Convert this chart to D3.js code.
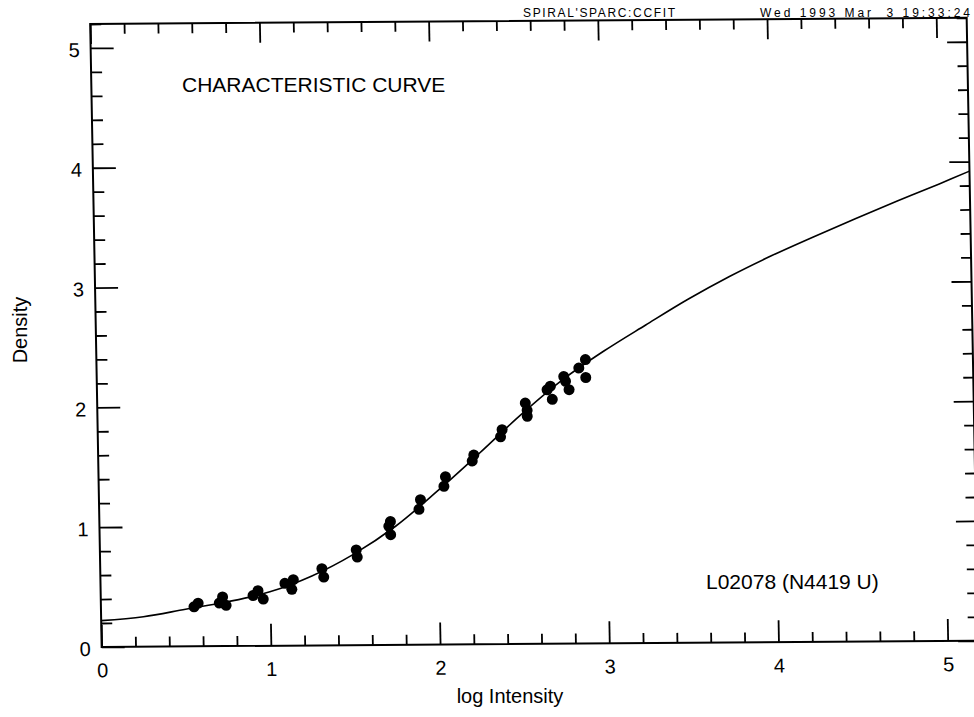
<!DOCTYPE html>
<html>
<head>
<meta charset="utf-8">
<script src="https://cdn.jsdelivr.net/npm/d3@7"></script>
<style>
  html, body { margin: 0; padding: 0; background: #fff; }
  svg { display: block; }
  text { font-family: "Liberation Sans", Arial, Helvetica, sans-serif; fill: #000; }
</style>
</head>
<body>
<svg id="chart" width="974" height="717"></svg>
<script>
// Fitted characteristic curve (log intensity -> density)
const curveLogI    = [0, 0.25, 0.5, 0.75, 1.0, 1.25, 1.5, 1.75, 2.0, 2.25, 2.5, 2.75, 3.0, 3.25, 3.5, 3.75, 4.0, 4.25, 4.5, 4.75, 5.0, 5.18];
const curveDensity = [0.22, 0.25, 0.31, 0.37, 0.45, 0.58, 0.76, 0.99, 1.28, 1.59, 1.91, 2.20, 2.44, 2.655, 2.865, 3.055, 3.225, 3.38, 3.53, 3.675, 3.815, 3.92];

// Calibration measurements
const pointLogI    = [0.55, 0.575, 0.70, 0.72, 0.74, 0.90, 0.93, 0.96, 1.09, 1.13, 1.14, 1.31, 1.32, 1.515, 1.52, 1.71, 1.72, 1.72, 1.89, 1.90, 2.04, 2.05, 2.21, 2.22, 2.38, 2.39, 2.53, 2.54, 2.54, 2.66, 2.68, 2.69, 2.76, 2.77, 2.79, 2.85, 2.89, 2.89];
const pointDensity = [0.33, 0.36, 0.36, 0.41, 0.34, 0.42, 0.46, 0.39, 0.52, 0.47, 0.55, 0.64, 0.57, 0.795, 0.735, 0.99, 0.92, 1.03, 1.13, 1.21, 1.32, 1.40, 1.53, 1.58, 1.73, 1.79, 2.01, 1.95, 1.90, 2.12, 2.15, 2.04, 2.23, 2.19, 2.12, 2.30, 2.22, 2.37];

// Axis ticks
const xMajorTicks = [0, 1, 2, 3, 4, 5];
const yMajorTicks = [0, 1, 2, 3, 4, 5];
const tickStep = 0.2;

const titleText  = "CHARACTERISTIC CURVE";
const plateText  = "L02078 (N4419 U)";
const xLabelText = "log Intensity";
const yLabelText = "Density";
const headerLeft = "SPIRAL'SPARC:CCFIT";
const headerRight = "Wed 1993 Mar  3 19:33:24";

const xMax = 5.18, yMax = 5.2;
const plotW = xMax * 169.2, plotH = yMax * 119.8;

const svg = d3.select("#chart");

const x = d3.scaleLinear().domain([0, xMax]).range([0, plotW]);
const y = d3.scaleLinear().domain([0, yMax]).range([plotH, 0]);

const minorX = d3.range(0, xMax + 1e-9, tickStep).map(v => +v.toFixed(2)).filter(v => !xMajorTicks.includes(v));
const minorY = d3.range(0, yMax + 1e-9, tickStep).map(v => +v.toFixed(2)).filter(v => !yMajorTicks.includes(v));

// the plot panel sits slightly skewed on the page
const g = svg.append("g").attr("transform", "matrix(1,-0.0071,0.0184,1,90.2,24)");

// frame
g.append("rect")
  .attr("x", x(0)).attr("y", y(yMax))
  .attr("width", x(xMax) - x(0)).attr("height", y(0) - y(yMax))
  .attr("fill", "none").attr("stroke", "#000").attr("stroke-width", 2);

function styleAxis(sel) {
  sel.select(".domain").remove();
  sel.selectAll(".tick line").attr("stroke", "#000").attr("stroke-width", 1.8);
  sel.selectAll(".tick text").attr("font-size", 20).attr("font-family", "Liberation Sans, Arial, sans-serif").attr("fill", "#000");
}

// bottom axis
g.append("g").attr("transform", `translate(0,${y(0)})`)
  .call(d3.axisBottom(x).tickValues(xMajorTicks).tickFormat(d3.format("d")).tickSizeInner(-22).tickSizeOuter(0).tickPadding(16))
  .call(styleAxis);
g.append("g").attr("transform", `translate(0,${y(0)})`)
  .call(d3.axisBottom(x).tickValues(minorX).tickFormat("").tickSizeInner(-10).tickSizeOuter(0))
  .call(styleAxis);

// top axis
g.append("g").attr("transform", `translate(0,${y(yMax)})`)
  .call(d3.axisTop(x).tickValues(xMajorTicks).tickFormat("").tickSizeInner(-20).tickSizeOuter(0))
  .call(styleAxis);
g.append("g").attr("transform", `translate(0,${y(yMax)})`)
  .call(d3.axisTop(x).tickValues(minorX).tickFormat("").tickSizeInner(-10).tickSizeOuter(0))
  .call(styleAxis);

// left axis
g.append("g").attr("transform", `translate(${x(0)},0)`)
  .call(d3.axisLeft(y).tickValues(yMajorTicks).tickFormat(d3.format("d")).tickSizeInner(-23).tickSizeOuter(0).tickPadding(11))
  .call(styleAxis)
  .call(s => s.selectAll(".tick text").attr("dy", "0.42em"));
g.append("g").attr("transform", `translate(${x(0)},0)`)
  .call(d3.axisLeft(y).tickValues(minorY).tickFormat("").tickSizeInner(-11).tickSizeOuter(0))
  .call(styleAxis);

// right axis
g.append("g").attr("transform", `translate(${x(xMax)},0)`)
  .call(d3.axisRight(y).tickValues(yMajorTicks).tickFormat("").tickSizeInner(-20).tickSizeOuter(0))
  .call(styleAxis);
g.append("g").attr("transform", `translate(${x(xMax)},0)`)
  .call(d3.axisRight(y).tickValues(minorY).tickFormat("").tickSizeInner(-10).tickSizeOuter(0))
  .call(styleAxis);

// fitted curve
const curveData = curveLogI.map((v, i) => [v, curveDensity[i]]);
g.append("path")
  .datum(curveData)
  .attr("fill", "none").attr("stroke", "#000").attr("stroke-width", 1.6)
  .attr("d", d3.line().x(d => x(d[0])).y(d => y(d[1])).curve(d3.curveCatmullRom.alpha(0.5)));

// measured points
const pts = pointLogI.map((v, i) => [v, pointDensity[i]]);
g.append("g").selectAll("circle").data(pts).join("circle")
  .attr("cx", d => x(d[0])).attr("cy", d => y(d[1])).attr("r", 5.5)
  .attr("fill", "#000");

// annotations
svg.append("text").attr("x", 182).attr("y", 92).attr("font-size", 21).text(titleText);
svg.append("text").attr("x", 706).attr("y", 589).attr("font-size", 21).text(plateText);
svg.append("text").attr("x", 510).attr("y", 703).attr("font-size", 20).attr("text-anchor", "middle").text(xLabelText);
svg.append("text").attr("transform", "translate(27,330) rotate(-90)").attr("font-size", 20).attr("text-anchor", "middle").text(yLabelText);

// run header
svg.append("text").attr("x", 523).attr("y", 17).attr("font-size", 12)
  .attr("font-family", "DejaVu Sans Mono, monospace").attr("fill", "#555")
  .attr("textLength", 152).attr("lengthAdjust", "spacing").text(headerLeft);
svg.append("text").attr("x", 760).attr("y", 17).attr("font-size", 12)
  .attr("font-family", "DejaVu Sans Mono, monospace").attr("fill", "#555")
  .attr("textLength", 210).attr("lengthAdjust", "spacing").style("white-space", "pre").text(headerRight);
</script>
</body>
</html>
